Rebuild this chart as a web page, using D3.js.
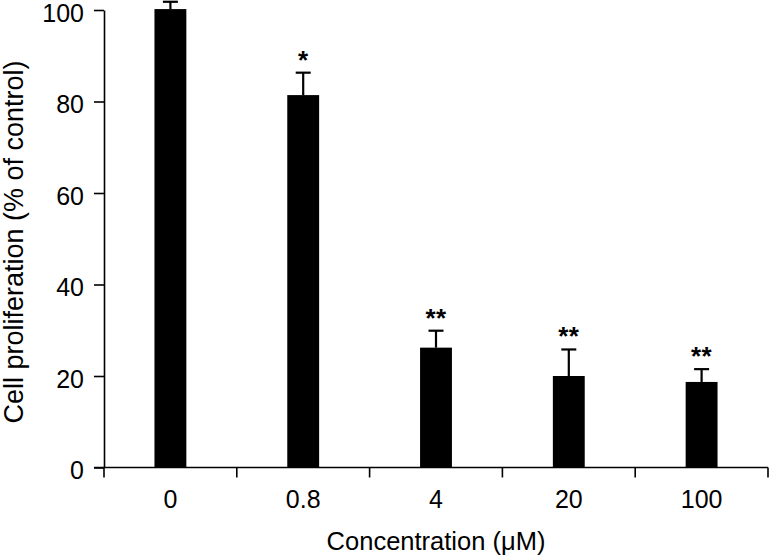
<!DOCTYPE html>
<html><head><meta charset="utf-8">
<script src="https://cdn.jsdelivr.net/npm/d3@7"></script>
<style>body{margin:0;background:#fff}svg{display:block}text{font-family:"Liberation Sans",Arial,sans-serif;fill:#000}</style>
</head><body><svg id="c" width="769" height="557"></svg>
<script>
const categories = ["0", "0.8", "4", "20", "100"];
const values = [100.2, 81.4, 26.2, 20.0, 18.7];
const errors = [1.6, 4.9, 3.7, 5.8, 2.8];
const marks = ["", "*", "**", "**", "**"];
const yTicks = [0, 20, 40, 60, 80, 100];

const svg = d3.select("#c");
const L = 104, R = 768, T = 10, B = 467.5;
const x = d3.scaleBand().domain(categories).range([L, R]).paddingInner(0.76).paddingOuter(0.38);
const y = d3.scaleLinear().domain([0, 100]).range([B, T]);

// y axis
const ya = svg.append("g").attr("transform", `translate(${L},0)`)
  .call(d3.axisLeft(y).tickValues(yTicks).tickSize(10).tickPadding(10).tickSizeOuter(0));
ya.select(".domain").attr("stroke", "#000").attr("stroke-width", 1.6);
ya.selectAll(".tick line").attr("stroke", "#000").attr("stroke-width", 1.6);
ya.selectAll(".tick text").attr("font-size", 25).attr("dy", "0.45em").attr("font-family", "Liberation Sans, Arial, sans-serif");

// x axis line with ticks at band boundaries
const xa = svg.append("g").attr("transform", `translate(0,${B})`);
xa.append("line").attr("x1", L - 10).attr("x2", R).attr("y1", 0).attr("y2", 0).attr("stroke", "#000").attr("stroke-width", 1.6);
const edges = categories.map(c => x(c) + x.bandwidth() / 2 - x.step() / 2).concat([x(categories[categories.length-1]) + x.bandwidth()/2 + x.step()/2]);
xa.selectAll("line.tk").data(edges).join("line").attr("class", "tk")
  .attr("x1", d => d).attr("x2", d => d).attr("y1", 0).attr("y2", 10).attr("stroke", "#000").attr("stroke-width", 1.6);
xa.selectAll("text.lb").data(categories).join("text").attr("class", "lb")
  .attr("x", d => x(d) + x.bandwidth() / 2).attr("y", 40).attr("text-anchor", "middle").attr("font-size", 25).text(d => d);

// error bars
const g = svg.append("g");
categories.forEach((c, i) => {
  const cx = x(c) + x.bandwidth() / 2;
  g.append("line").attr("x1", cx).attr("x2", cx).attr("y1", y(values[i])).attr("y2", y(values[i] + errors[i])).attr("stroke", "#000").attr("stroke-width", 2.2);
  g.append("line").attr("x1", cx - 7.5).attr("x2", cx + 7.5).attr("y1", y(values[i] + errors[i])).attr("y2", y(values[i] + errors[i])).attr("stroke", "#000").attr("stroke-width", 2.2);
  if (marks[i]) g.append("text").attr("x", cx).attr("y", y(values[i] + errors[i]) - 4).attr("text-anchor", "middle").attr("font-size", 26).attr("font-weight", "bold").attr("letter-spacing", 0.5).text(marks[i]);
});
// bars
svg.append("g").selectAll("rect").data(categories).join("rect")
  .attr("x", d => x(d)).attr("width", x.bandwidth())
  .attr("y", (d, i) => y(values[i])).attr("height", (d, i) => B - y(values[i]))
  .attr("fill", "#000");

// axis titles
svg.append("text").attr("x", (L + R) / 2).attr("y", 550).attr("text-anchor", "middle").attr("font-size", 25.5).text("Concentration (μM)");
svg.append("text").attr("transform", `translate(23,${242}) rotate(-90)`).attr("text-anchor", "middle").attr("font-size", 27).text("Cell proliferation (% of control)");
</script></body></html>
